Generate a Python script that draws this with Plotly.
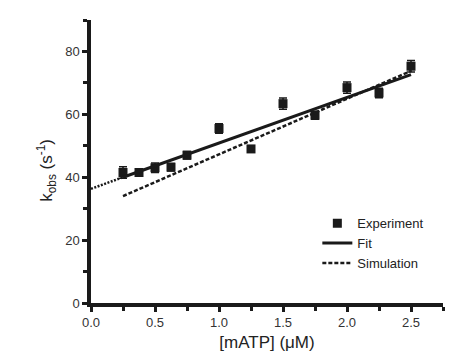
import plotly.graph_objects as go

# Experimental data
exp_x = [0.25, 0.375, 0.5, 0.625, 0.75, 1.0, 1.25, 1.5, 1.75, 2.0, 2.25, 2.5]
exp_y = [41.5, 41.5, 43.0, 43.2, 47.0, 55.5, 49.0, 63.4, 59.7, 68.5, 66.8, 75.3]
exp_err = [1.8, 1.2, 1.5, 1.2, 1.2, 1.5, 1.0, 1.8, 1.3, 1.8, 1.5, 1.8]

# Fit line (solid) and its extrapolation (dotted)
fit_x = [0.25, 2.5]
fit_y = [40.0, 72.6]
fit_ext_x = [0.0, 0.25]
fit_ext_y = [36.3, 40.0]

# Simulation (dashed)
sim_x = [0.25, 2.5]
sim_y = [34.0, 73.8]

x_ticks = [0.0, 0.5, 1.0, 1.5, 2.0, 2.5]
x_ticklabels = ["0.0", "0.5", "1.0", "1.5", "2.0", "2.5"]
y_ticks = [0, 20, 40, 60, 80]

black = "#1a1a1a"
FONT = "Liberation Sans, Arial, sans-serif"
fig = go.Figure()

fig.add_trace(go.Scatter(
    x=fit_ext_x, y=fit_ext_y, mode="lines", showlegend=False,
    line=dict(color=black, width=2.5, dash="2px,1.5px"), hoverinfo="skip"))
fig.add_trace(go.Scatter(
    x=exp_x, y=exp_y, mode="markers", name="Experiment",
    marker=dict(symbol="square", size=9, color=black),
    error_y=dict(type="data", array=exp_err, color=black, thickness=1.5, width=4)))
fig.add_trace(go.Scatter(
    x=fit_x, y=fit_y, mode="lines", name="Fit",
    line=dict(color=black, width=3)))
fig.add_trace(go.Scatter(
    x=sim_x, y=sim_y, mode="lines", name="Simulation",
    line=dict(color=black, width=2.5, dash="4px,2px")))

axis_common = dict(
    showline=True, linecolor=black, linewidth=3.5,
    ticks="outside", tickwidth=3, ticklen=5, tickcolor=black,
    showgrid=False, zeroline=False,
    tickfont=dict(family=FONT, size=13, color="#333"),
)

fig.update_layout(
    width=451, height=358,
    margin=dict(l=91, r=8, t=20, b=55),
    plot_bgcolor="white", paper_bgcolor="white",
    font=dict(family=FONT, color="#222"),
    xaxis=dict(range=[0, 2.75], tickvals=x_ticks, ticktext=x_ticklabels,
               minor=dict(ticks="outside", dtick=0.25, ticklen=4, tickwidth=3, tickcolor=black),
               title=dict(text="[mATP] (\u03bcM)", font=dict(size=17), standoff=8),
               **axis_common),
    yaxis=dict(range=[0, 90], tickvals=y_ticks,
               minor=dict(ticks="outside", dtick=10, ticklen=4, tickwidth=3, tickcolor=black),
               **axis_common),
    legend=dict(x=0.643, y=0.335, xanchor="left", yanchor="top",
                bgcolor="rgba(0,0,0,0)", font=dict(size=13, color="#222"),
                tracegroupgap=0, itemwidth=30),
    annotations=[dict(
        text="k<sub>obs</sub> (s<sup>-1</sup>)", textangle=-90,
        xref="paper", yref="paper", x=-0.125, y=0.467,
        xanchor="center", yanchor="middle", showarrow=False,
        font=dict(family=FONT, size=17, color="#222"))],
)

fig.write_html("out.html")
